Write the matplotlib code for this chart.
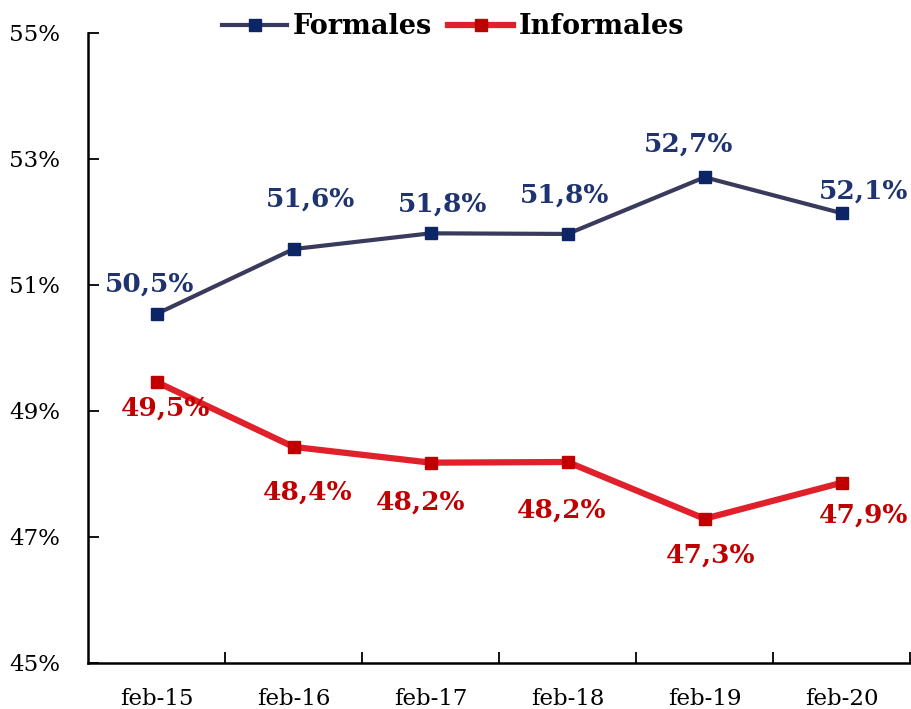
import matplotlib
matplotlib.use("Agg")
import matplotlib.pyplot as plt
from matplotlib.ticker import FixedLocator

# data
periodos = ['feb-15', 'feb-16', 'feb-17', 'feb-18', 'feb-19', 'feb-20']
formales = [50.54, 51.57, 51.82, 51.81, 52.71, 52.14]
informales = [49.46, 48.43, 48.18, 48.19, 47.29, 47.86]

# label offsets in pixels (dx, dy)
off_formales = [(-7, 30), (17, 50), (12, 29), (-3, 39), (-16, 33), (22, 22)]
off_informales = [(9, -26), (14, -45), (-10, -39), (-6, -48), (6, -36), (22, -32)]

plt.rcParams['font.family'] = ['DejaVu Serif']

fig = plt.figure(figsize=(9.11, 7.09), dpi=100)
ax = fig.add_axes([0.0966, 0.0649, 0.9024, 0.8886])

x = list(range(len(periodos)))
ax.plot(x, formales, color='#3a3a5c', lw=3, marker='s', ms=9,
        mfc='#0b2566', mec='#0b2566', label='Formales', zorder=3)
ax.plot(x, informales, color='#e0202a', lw=4.5, marker='s', ms=9,
        mfc='#c00000', mec='#c00000', label='Informales', zorder=3)

for i in x:
    ax.annotate(f"{formales[i]:.1f}%".replace('.', ','), (i, formales[i]),
                xytext=off_formales[i], textcoords='offset pixels',
                ha='center', va='center', fontsize=19, fontweight='bold',
                color='#1f3370')
    ax.annotate(f"{informales[i]:.1f}%".replace('.', ','), (i, informales[i]),
                xytext=off_informales[i], textcoords='offset pixels',
                ha='center', va='center', fontsize=19, fontweight='bold',
                color='#c00000')

ax.set_xlim(-0.5, 5.5)
ax.set_ylim(45, 55)
ax.set_yticks([45, 47, 49, 51, 53, 55])
ax.set_yticklabels(['45%', '47%', '49%', '51%', '53%', '55%'], fontsize=16.5)
ax.set_xticks(x)
ax.set_xticklabels(periodos, fontsize=16.5)
ax.tick_params(axis='x', length=0, pad=18)
ax.xaxis.set_minor_locator(FixedLocator([0.5, 1.5, 2.5, 3.5, 4.5, 5.5]))
ax.tick_params(axis='x', which='minor', direction='in', length=8, width=1.3)
ax.tick_params(axis='y', direction='in', length=8, width=1.3, pad=20)

ax.spines['top'].set_visible(False)
ax.spines['right'].set_visible(False)
ax.spines['left'].set_linewidth(1.8)
ax.spines['bottom'].set_linewidth(1.8)

leg = ax.legend(loc='center', bbox_to_anchor=(0.444, 1.01), ncol=2, frameon=False,
                prop={'size': 19.5, 'weight': 'bold'}, handlelength=2.4,
                columnspacing=0.6, handletextpad=0.2)

fig.savefig('out.png', dpi=100)
